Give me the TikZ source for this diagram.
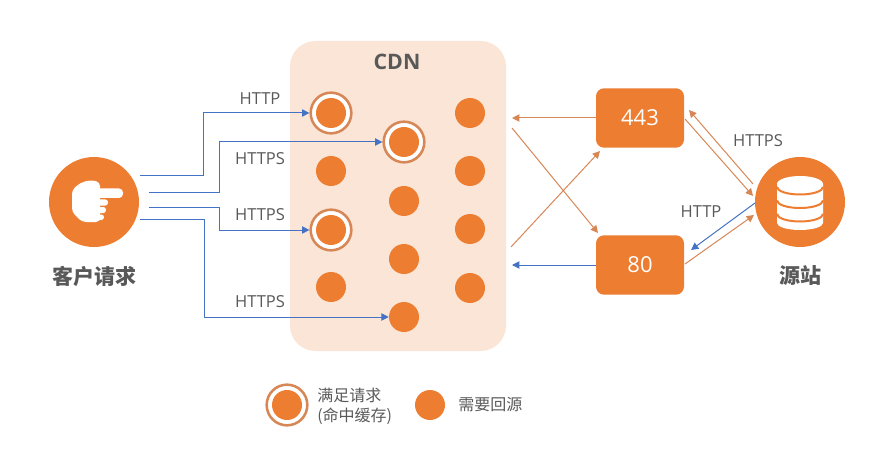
\documentclass[tikz,border=0pt]{standalone}
\usepackage{fontspec}
\setmainfont{Open Sans}
\newfontfamily\cjk{Noto Sans CJK SC}
\usetikzlibrary{arrows.meta}
\definecolor{cdnorange}{RGB}{237,125,49}
\definecolor{cdnline}{RGB}{215,135,85}
\definecolor{cdnpeach}{RGB}{251,229,214}
\definecolor{cdnblue}{RGB}{68,114,196}
\definecolor{cdntext}{RGB}{89,89,89}
\tikzset{
  dotnode/.style={circle,fill=cdnorange,inner sep=0pt,minimum size=22.5pt},
  ringnode/.style={circle,draw=cdnline,line width=1.9pt,fill=white,inner sep=0pt,minimum size=30.5pt},
  bignode/.style={circle,fill=cdnorange,inner sep=0pt,minimum size=67.5pt},
  portnode/.style={rectangle,rounded corners=6pt,fill=cdnorange,text=white,inner sep=0pt,minimum width=66pt,minimum height=44.5pt,font=\fontsize{16.5pt}{20pt}\selectfont},
  labelnode/.style={text=cdntext,inner sep=0pt,font=\fontsize{12.4pt}{15pt}\selectfont},
  titlenode/.style={text=cdntext,inner sep=0pt,font=\fontsize{15.75pt}{19pt}\selectfont\cjk\bfseries},
  legendnode/.style={text=cdntext,inner sep=0pt,align=left,font=\fontsize{12pt}{15pt}\selectfont\cjk},
  bluearrow/.style={draw=cdnblue,line width=0.75pt,-{Triangle[length=5.5pt,width=5.5pt]}},
  orangearrow/.style={draw=cdnline,line width=0.75pt,-{Triangle[length=5.5pt,width=5.5pt]}}
}
\begin{document}
\begin{tikzpicture}[x=0.75pt,y=0.75pt,yscale=-1,xscale=1]
\useasboundingbox (0,0) rectangle (887,463);

% CDN panel
\node (panel) [rectangle,rounded corners=19pt,fill=cdnpeach,inner sep=0pt,minimum width=162pt,minimum height=232.5pt] at (398,196) {};
\node (cdn) [text=cdntext,inner sep=0pt,font=\fontsize{16pt}{19pt}\selectfont\bfseries] at (397,62) {CDN};

% Rings
\node (ringa) [ringnode] at (331,113) {};
\node (ringb) [ringnode] at (404,142) {};
\node (ringc) [ringnode] at (331,230) {};
\node (ringd) [ringnode] at (287,405) {};

% Dots
\foreach \name/\px/\py in {a1/331/113,a2/331/171,a3/331/230,a4/331/287,b1/404/142,b2/404/201,b3/404/259,b4/404/317,c1/470/113,c2/470/171,c3/470/229,c4/470/288,k1/287/405,k2/430/405}
  \node (\name) [dotnode] at (\px,\py) {};

% Client and origin
\node (client) [bignode] at (94,202) {};
\node (origin) [bignode] at (800,202) {};

% Hand
\fill[white,rounded corners=3pt] (72,190) -- (80,183) -- (90,180) -- (100,182) -- (100,222) -- (82,222) -- (72,212) -- cycle;
\fill[white,rounded corners=3pt] (92,188.5) rectangle (123,198);
\fill[white,rounded corners=2pt] (92,199.5) rectangle (108,205.5);
\fill[white,rounded corners=2pt] (92,207) rectangle (106,213);
\fill[white,rounded corners=2pt] (92,214.5) rectangle (104,220);

% Database
\fill[white] (777,184) arc[start angle=180,end angle=360,x radius=23,y radius=8] -- (823,223) arc[start angle=0,end angle=180,x radius=23,y radius=7] -- cycle;
\foreach \dy in {187,200.5,214}
  \draw[cdnorange,line width=1.5pt] (777,\dy) arc[start angle=180,end angle=0,x radius=23,y radius=7.5];

% Ports
\node (portb) [portnode] at (640,118) {443};
\node (porta) [portnode] at (640,265) {80};

% Free ends
\coordinate (ca) at (140,176);
\coordinate (cb) at (149,193);
\coordinate (cc) at (149,207);
\coordinate (cd) at (140,219);
\coordinate (lefta) at (512,118);
\coordinate (leftb) at (512,128);
\coordinate (leftc) at (511,247);
\coordinate (leftd) at (512,265);
\coordinate (xa) at (598,233);
\coordinate (xb) at (600,151);
\coordinate (sa) at (753,184);
\coordinate (sb) at (689,110);
\coordinate (sc) at (685,119);
\coordinate (sd) at (753,196);
\coordinate (se) at (755,203);
\coordinate (sf) at (691,250);
\coordinate (sg) at (685,264);
\coordinate (sh) at (754,215);

% Requests
\draw[bluearrow] (ca) -- ++(63,0) |- (ringa.west);
\draw[bluearrow] (cb) -- ++(70,0) |- (ringb.west);
\draw[bluearrow] (cc) -- ++(70,0) |- (ringc.west);
\draw[bluearrow] (cd) -- ++(64,0) |- (b4.west);

% Back to origin
\draw[orangearrow] (portb.west) -- (lefta);
\draw[orangearrow] (leftb) -- (xa);
\draw[orangearrow] (leftc) -- (xb);
\draw[bluearrow] (porta.west) -- (leftd);
\draw[orangearrow] (sa) -- (sb);
\draw[orangearrow] (sc) -- (sd);
\draw[bluearrow] (se) -- (sf);
\draw[orangearrow] (sg) -- (sh);

% Text Node
\node (ta) [labelnode] at (260,99) {HTTP};
\node (tb) [labelnode] at (260,159) {HTTPS};
\node (tc) [labelnode] at (260,215) {HTTPS};
\node (td) [labelnode] at (260,302) {HTTPS};
\node (te) [labelnode] at (758,141) {HTTPS};
\node (tf) [labelnode] at (701,212) {HTTP};
\node (tg) [titlenode] at (94,276) {客户请求};
\node (th) [titlenode] at (800,276) {源站};
\node (ti) [legendnode,anchor=west] at (317,406) {满足请求\\(命中缓存)};
\node (tj) [legendnode,anchor=west] at (458,405) {需要回源};

\end{tikzpicture}
\end{document}
